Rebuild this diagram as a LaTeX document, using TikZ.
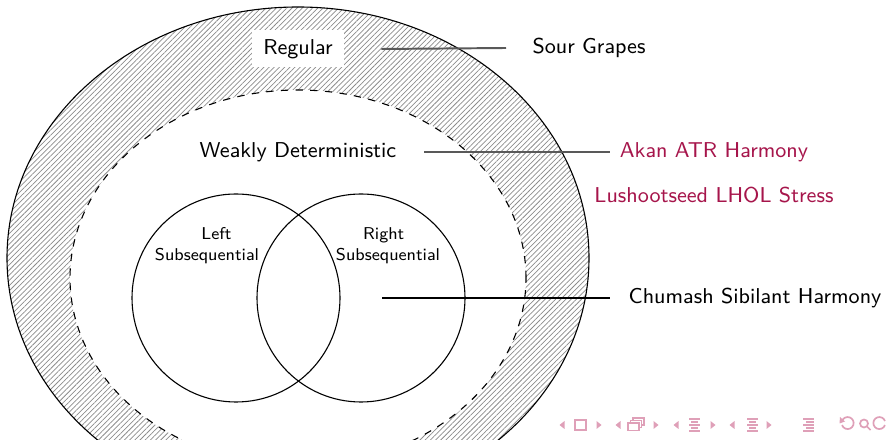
\documentclass[tikz,border=0pt]{standalone}
\usetikzlibrary{patterns.meta}
\definecolor{alertc}{HTML}{A6154B}
\definecolor{navc}{HTML}{DFA0B8}
\tikzset{
  lbl/.style={font=\sffamily\fontsize{8.8}{10.5}\selectfont, inner sep=1pt},
  small/.style={font=\sffamily\fontsize{7}{8.6}\selectfont, align=center, inner sep=0pt},
  alert/.style={lbl, text=alertc},
  lead/.style={draw=black!65, line width=0.8pt},
  leadk/.style={draw=black, line width=0.6pt},
  navtri/.style={fill=navc, draw=none},
  navln/.style={draw=navc, line width=0.7pt},
}
\begin{document}
\begin{tikzpicture}[x=0.4091pt, y=-0.4091pt]
\useasboundingbox (0,0) rectangle (887,440);
\begin{scope}
\clip (0,0) rectangle (887,440);
% hatched ring
\fill[pattern={Lines[angle=45, distance=1.5pt, line width=0.3pt]}, pattern color=black!45] (298,258) ellipse [x radius=291*0.4091pt, y radius=251*0.4091pt];
\fill[white] (298,278) ellipse [x radius=228*0.4091pt, y radius=188*0.4091pt];
\draw[line width=0.45pt] (298,258) ellipse [x radius=291*0.4091pt, y radius=251*0.4091pt];
\draw[line width=0.45pt, dashed] (298,278) ellipse [x radius=228*0.4091pt, y radius=188*0.4091pt];
\end{scope}
% circles
\draw[line width=0.45pt] (236,298) circle [radius=104*0.4091pt];
\draw[line width=0.45pt] (361,298) circle [radius=104*0.4091pt];
% labels
\node[lbl, fill=white, minimum width=92*0.4091pt, minimum height=37*0.4091pt] (reg) at (298,49) {Regular};
\node[lbl] (sour) at (589,48) {Sour Grapes};
\node[lbl] (wd) at (298,152) {Weakly Deterministic};
\node[alert] (akan) at (714,152) {Akan ATR Harmony};
\node[alert] (lush) at (714,195) {Lushootseed LHOL Stress};
\node[lbl] (chum) at (755,298) {Chumash Sibilant Harmony};
\node[small] (left) at (207,246) {\hspace*{1.1em}Left\\Subsequential};
\node[small] (right) at (388,246) {Right\hspace*{0.5em}\\Subsequential};
\coordinate (rs) at (382,298);
% leaders
\draw[lead] (reg.east) ++(37,0) coordinate (r1) -- (sour.west -| 506,0) coordinate (r2);
\draw[lead] (wd.east) ++(25,0) -- (akan.west -| 610,0);
\draw[leadk] (rs) -- (chum.west -| 610,0);
% navigation symbols
\begin{scope}
\foreach \x in {562,618,676,732}{\fill[navtri] (\x-2.5,425) -- (\x+2.5,421) -- (\x+2.5,429) -- cycle;}
\foreach \x in {599,656,713,769}{\fill[navtri] (\x+2.5,425) -- (\x-2.5,421) -- (\x-2.5,429) -- cycle;}
\draw[navln] (575,420) rectangle (586,430);
\draw[navln, fill=white] (633,418) rectangle (644,425);
\draw[navln, fill=white] (630.5,420.5) rectangle (641.5,427.5);
\draw[navln, fill=white] (628,423) rectangle (639,430.5);
\foreach \x in {689,747}{
  \draw[navln] (\x,419) -- (\x+11,419);
  \draw[navln] (\x+2,422) -- (\x+9,422);
  \draw[navln] (\x,425) -- (\x+11,425);
  \draw[navln] (\x+2,428) -- (\x+9,428);
  \draw[navln] (\x,431) -- (\x+11,431);
}
\draw[navln] (803,419) -- (814,419);
\draw[navln] (806,422) -- (814,422);
\draw[navln] (803,425) -- (814,425);
\draw[navln] (806,428) -- (814,428);
\draw[navln] (803,431) -- (814,431);
\draw[navln] (842,421) arc[start angle=160, end angle=-160, radius=6*0.4091pt];
\fill[navc] (840,417) -- (845,421.5) -- (839.5,423.5) -- cycle;
\draw[navln] (864,423.5) circle [radius=4*0.4091pt];
\draw[navln] (867,426.5) -- (870.5,430);
\draw[navln] (885,421) arc[start angle=20, end angle=340, radius=6*0.4091pt];
\end{scope}
\end{tikzpicture}
\end{document}
